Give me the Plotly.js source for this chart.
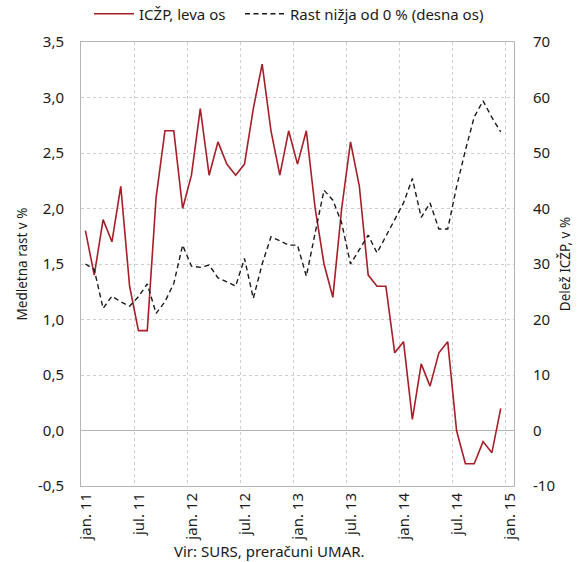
<!DOCTYPE html>
<html>
<head>
<meta charset="utf-8">
<script src="https://cdn.plot.ly/plotly-3.0.1.min.js"></script>
<style>html,body{margin:0;padding:0;background:#fff;}#chart{width:580px;height:562px;}</style>
</head>
<body>
<div id="chart"></div>
<script>
// Months Jan 2011 .. Dec 2014
const months = ["jan. 11","feb. 11","mar. 11","apr. 11","maj. 11","jun. 11","jul. 11","avg. 11","sep. 11","okt. 11","nov. 11","dec. 11",
  "jan. 12","feb. 12","mar. 12","apr. 12","maj. 12","jun. 12","jul. 12","avg. 12","sep. 12","okt. 12","nov. 12","dec. 12",
  "jan. 13","feb. 13","mar. 13","apr. 13","maj. 13","jun. 13","jul. 13","avg. 13","sep. 13","okt. 13","nov. 13","dec. 13",
  "jan. 14","feb. 14","mar. 14","apr. 14","maj. 14","jun. 14","jul. 14","avg. 14","sep. 14","okt. 14","nov. 14","dec. 14"];

// ICŽP, annual growth (left axis, %)
const iczp = [1.8,1.4,1.9,1.7,2.2,1.3,0.9,0.9,2.1,2.7,2.7,2.0,
  2.3,2.9,2.3,2.6,2.4,2.3,2.4,2.9,3.3,2.7,2.3,2.7,
  2.4,2.7,2.0,1.5,1.2,2.0,2.6,2.2,1.4,1.3,1.3,0.7,
  0.8,0.1,0.6,0.4,0.7,0.8,0.0,-0.3,-0.3,-0.1,-0.2,0.2];

// Share with growth below 0 % (right axis, %)
const share = [30,29,22,24.2,23.2,22.4,24.1,26.4,21.1,23.2,26.5,33.4,
  29.6,29.4,29.8,27.5,26.8,26,31,23.8,30,34.9,34.2,33.4,
  33.4,27.8,35.6,43.3,41.5,37.4,30,32.5,35.2,32,35,38,
  41,45.4,38.4,41,36.3,36.3,43.9,50.5,56.5,59.4,56.4,53.8];

const xTickLabels = ["jan. 11","jul. 11","jan. 12","jul. 12","jan. 13","jul. 13","jan. 14","jul. 14","jan. 15"];
const yLeftTicks = [-0.5,0,0.5,1,1.5,2,2.5,3,3.5];
const yLeftLabels = ["-0,5","0,0","0,5","1,0","1,5","2,0","2,5","3,0","3,5"];
const yRightTicks = [-10,0,10,20,30,40,50,60,70];
const yRightLabels = ["-10","0","10","20","30","40","50","60","70"];

const seriesNames = ["ICŽP, leva os","Rast nižja od 0 % (desna os)"];

// month slot index: point i is centered in slot [i, i+1]
const xPos = months.map((m,i)=>i+0.5);
const xTickVals = xTickLabels.map((t,k)=>k*6);

const FONT = "Noto Sans, Open Sans, sans-serif";
const TXT = "#1a1a1a";
const traces = [
  {x:xPos, y:iczp, name:seriesNames[0], type:"scatter", mode:"lines",
   line:{color:"#a51e28", width:1.6}, yaxis:"y", legend:"legend"},
  {x:xPos, y:share, name:seriesNames[1], type:"scatter", mode:"lines",
   line:{color:"#1a1a1a", width:1.4, dash:"5px,3.5px"}, yaxis:"y2", legend:"legend2"}
];

const legendBase = {orientation:"h", xanchor:"left", yanchor:"middle", yref:"container", xref:"container",
  y:0.975, font:{family:FONT, size:15, color:TXT}, itemwidth:40, bgcolor:"rgba(0,0,0,0)", borderwidth:0};

const layout = {
  width:580, height:562,
  margin:{l:81, r:66, t:42, b:76, autoexpand:false},
  paper_bgcolor:"#fff", plot_bgcolor:"#fff",
  font:{family:FONT, size:15, color:TXT},
  showlegend:true,
  legend:Object.assign({}, legendBase, {x:89/580}),
  legend2:Object.assign({}, legendBase, {x:240/580}),
  xaxis:{range:[0,49], tickmode:"array", tickvals:xTickVals, ticktext:xTickLabels,
    tickangle:-90, showgrid:true, gridcolor:"#cfcfcf", griddash:"dot", gridwidth:1,
    showline:true, linecolor:"#b5b5b5", linewidth:1, mirror:true, ticks:"",
    zeroline:false, ticklabelshift:5, tickfont:{family:FONT, size:15, color:TXT}},
  yaxis:{range:[-0.5,3.5], tickmode:"array", tickvals:yLeftTicks, ticktext:yLeftLabels,
    showgrid:true, gridcolor:"#cfcfcf", griddash:"dot", gridwidth:1,
    showline:true, linecolor:"#b5b5b5", linewidth:1, mirror:true, ticks:"",
    zeroline:true, zerolinecolor:"#b5b5b5", zerolinewidth:1,
    ticklabelstandoff:13, tickfont:{family:FONT, size:15, color:TXT},
    title:{text:"Medletna rast v %", font:{family:FONT, size:13.5, color:TXT}, standoff:7}},
  yaxis2:{range:[-10,70], overlaying:"y", side:"right", tickmode:"array",
    tickvals:yRightTicks, ticktext:yRightLabels, showgrid:false, zeroline:false,
    showline:false, ticks:"", ticklabelstandoff:18, tickfont:{family:FONT, size:15, color:TXT},
    title:{text:"Delež ICŽP, v %", font:{family:FONT, size:13.5, color:TXT}, standoff:6}},
  annotations:[{text:"Vir: SURS, preračuni UMAR.", xref:"paper", yref:"paper",
    x:0.436, y:-0.146, xanchor:"center", yanchor:"middle", showarrow:false,
    font:{family:FONT, size:15, color:TXT}}]
};

Plotly.newPlot("chart", traces, layout, {displayModeBar:false, staticPlot:true});
</script>
</body>
</html>
